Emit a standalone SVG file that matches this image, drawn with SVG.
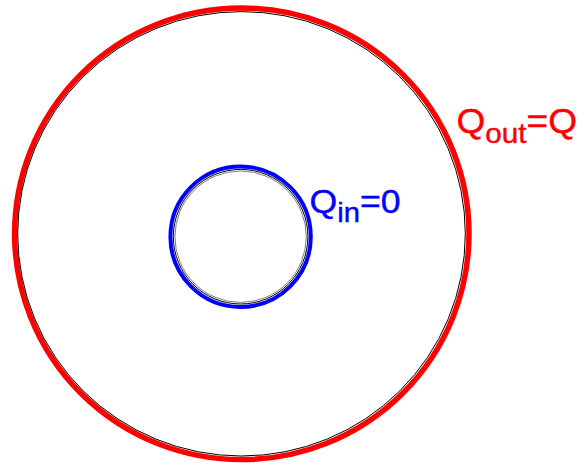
<svg xmlns="http://www.w3.org/2000/svg" width="579" height="467" viewBox="0 0 579 467">
  <style>
    .lbl { font-family: "Liberation Sans", Arial, sans-serif; stroke-width: 0.4; }
    .thin { fill: none; stroke: #000; stroke-width: 1; }
  </style>
  <rect x="0" y="0" width="579" height="467" fill="#ffffff"/>
  <g id="outer-shell">
    <ellipse cx="241.8" cy="233.8" rx="227.2" ry="225.8" fill="none" stroke="#ff0000" stroke-width="5.5"/>
    <ellipse class="thin" cx="241.5" cy="233.8" rx="223.8" ry="222.2"/>
  </g>
  <g id="inner-shell">
    <circle cx="240.6" cy="236.7" r="70.2" fill="none" stroke="#0000ff" stroke-width="4"/>
    <circle class="thin" cx="240.6" cy="236.7" r="67.3"/>
    <circle cx="240.6" cy="236.7" r="65.7" fill="none" stroke="#444" stroke-width="0.7"/>
  </g>
  <g id="labels">
    <text class="lbl" transform="translate(309.5,212.5) scale(1.08,1)" font-size="33" fill="#0000ff" stroke="#0000ff">Q<tspan font-size="27" dy="9">in</tspan><tspan dy="-9">=0</tspan></text>
    <text class="lbl" transform="translate(456.5,132.5) scale(1.06,1)" font-size="35" fill="#ff0000" stroke="#ff0000">Q<tspan font-size="28" dy="10">out</tspan><tspan dy="-10">=Q</tspan></text>
  </g>
</svg>
